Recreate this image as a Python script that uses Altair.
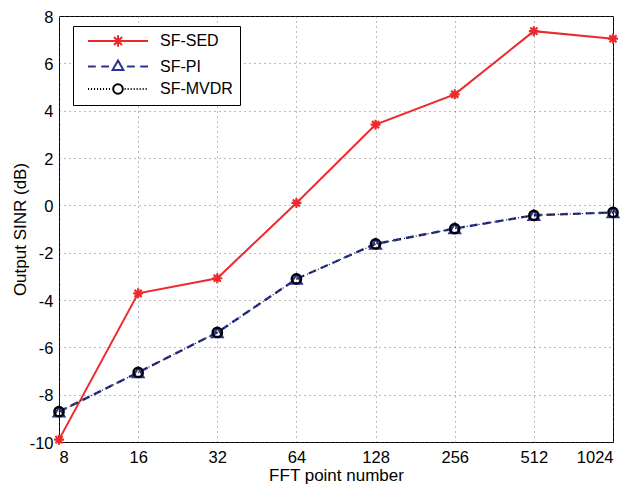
import altair as alt
import pandas as pd

fft_points = [8, 16, 32, 64, 128, 256, 512, 1024]
sinr_sed = [-9.9, -3.72, -3.08, 0.1, 3.41, 4.69, 7.36, 7.04]
sinr_pi = [-8.72, -7.06, -5.37, -3.11, -1.63, -0.98, -0.42, -0.3]
sinr_mvdr = [-8.72, -7.06, -5.37, -3.11, -1.63, -0.98, -0.42, -0.3]
series_names = ["SF-SED", "SF-PI", "SF-MVDR"]
y_ticks = [-10, -8, -6, -4, -2, 0, 2, 4, 6, 8]

RED = "#ec2a2c"
BLUE = "#2b3590"
BLACK = "#000000"
FONT = "Liberation Sans"

rows = []
for name, vals in zip(series_names, [sinr_sed, sinr_pi, sinr_mvdr]):
    for f, v in zip(fft_points, vals):
        rows.append({"series": name, "fft": f, "sinr": v})
df = pd.DataFrame(rows)

# legend symbol paths (line sample + marker), 1 unit = 6 px
def dotted(x0, x1, step=0.5, seg=0.18):
    parts = []
    x = x0
    while x < x1:
        parts.append(f"M{x:.2f},0L{x + seg:.2f},0")
        x += step
    return "".join(parts)

leg_sed = ("M0,0L10,0"
           "M5,-0.95L5,0.95M4.05,0L5.95,0M4.33,-0.67L5.67,0.67M4.33,0.67L5.67,-0.67")
leg_pi = ("M0,0L1.3,0M2.2,0L3.5,0M6.5,0L7.8,0M8.7,0L10,0"
          "M5,-1.0L5.9,0.6L4.1,0.6Z")
leg_mvdr = (dotted(0, 4.0) + dotted(6.1, 10.0) +
            "M5.8,0A0.8,0.8 0 1,1 4.2,0A0.8,0.8 0 1,1 5.8,0")
legend_paths = [leg_sed, leg_pi, leg_mvdr]

asterisk = "M0,-1L0,1M-1,0L1,0M-0.71,-0.71L0.71,0.71M-0.71,0.71L0.71,-0.71"

x_enc = alt.X("fft:Q",
              scale=alt.Scale(type="log", base=2, domain=[8, 1024], nice=False),
              axis=alt.Axis(values=fft_points, format="d", title="FFT point number"))
y_enc = alt.Y("sinr:Q",
              scale=alt.Scale(domain=[-10, 8], nice=False),
              axis=alt.Axis(values=y_ticks, title="Output SINR (dB)", labelOffset=1,
                            labelExpr="'' + datum.value"))

base = alt.Chart(df).encode(x=x_enc, y=y_enc)

line_sed = base.transform_filter(alt.datum.series == "SF-SED").mark_line(
    color=RED, strokeWidth=2)
line_pi = base.transform_filter(alt.datum.series == "SF-PI").mark_line(
    color=BLUE, strokeWidth=2.4, strokeDash=[8, 5])
line_mvdr = base.transform_filter(alt.datum.series == "SF-MVDR").mark_line(
    color=BLACK, strokeWidth=1.1, strokeDash=[1, 3])

pts_sed = base.transform_filter(alt.datum.series == "SF-SED").mark_point(
    shape=asterisk, size=100, color=RED, strokeWidth=2.2, opacity=1, filled=False)
pts_pi = base.transform_filter(alt.datum.series == "SF-PI").mark_point(
    shape="triangle-up", size=120, color=BLUE, strokeWidth=2, opacity=1, filled=False)
pts_mvdr = base.transform_filter(alt.datum.series == "SF-MVDR").mark_point(
    shape="circle", size=85, color=BLACK, strokeWidth=2.5, opacity=1, filled=False)

leg = alt.Legend(
    title=None, orient="none", legendX=14, legendY=10,
    padding=7, rowPadding=5.5, symbolSize=144, symbolStrokeWidth=2,
    symbolOpacity=1, labelOffset=64, labelFontSize=16, labelFont=FONT,
    labelColor="black", fillColor="white", strokeColor="black",
    cornerRadius=0, labelLimit=0,
    labelExpr="datum.label + '        '")

legend_layer = base.mark_point(opacity=0, filled=False).encode(
    color=alt.Color("series:N", scale=alt.Scale(domain=series_names, range=[RED, BLUE, BLACK]), legend=leg),
    shape=alt.Shape("series:N", scale=alt.Scale(domain=series_names, range=legend_paths), legend=leg),
)

chart = alt.layer(
    line_sed, line_pi, line_mvdr, pts_sed, pts_pi, pts_mvdr, legend_layer
).properties(
    width=554, height=426,
    autosize=alt.AutoSizeParams(type="none"),
    padding={"left": 51, "top": 8, "right": 10, "bottom": 44},
    background="white",
).configure_view(
    stroke="black", strokeWidth=1
).configure_axis(
    grid=True, gridDash=[1, 4], gridColor="#555555", gridWidth=0.8,
    domain=False, ticks=False,
    labelFont=FONT, labelFontSize=16.5, labelColor="black",
    titleFont=FONT, titleFontSize=17, titleFontWeight="normal", titleColor="black",
).configure_axisX(
    labelPadding=7, titlePadding=2,
).configure_axisY(
    labelPadding=6, titlePadding=0,
)

chart.save("out.html", embed_options={"renderer": "svg", "actions": False})
